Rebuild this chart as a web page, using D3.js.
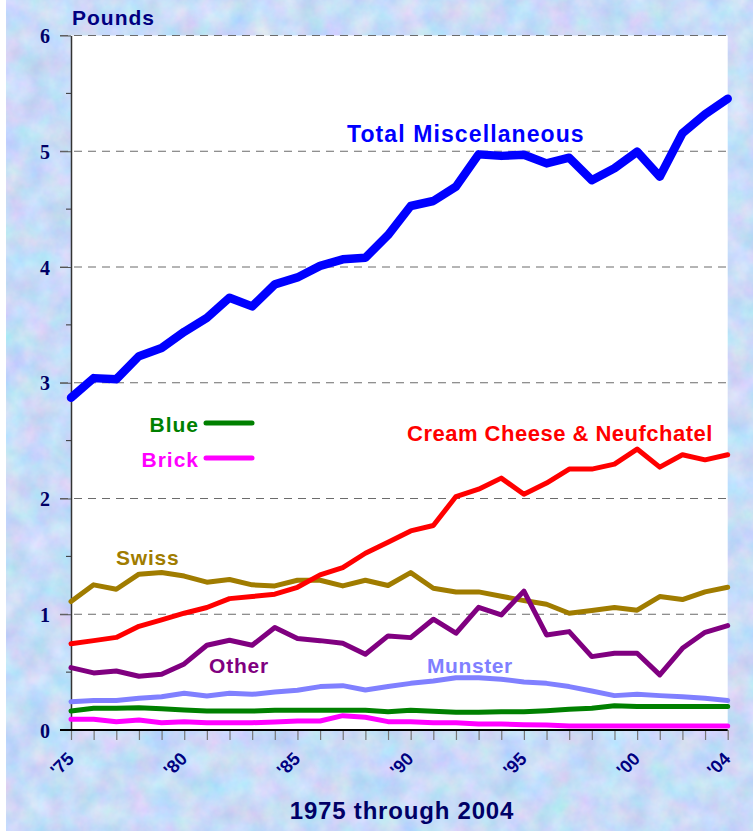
<!DOCTYPE html>
<html><head><meta charset="utf-8">
<script src="https://cdn.jsdelivr.net/npm/d3@7/dist/d3.min.js"></script>
<style>body{margin:0;background:#fff;}svg{display:block;}</style>
</head><body>
<script>
const years = d3.range(1975, 2005);
const yTicks = [0,1,2,3,4,5,6];
const xLabelYears = [1975,1980,1985,1990,1995,2000,2004];
const xLabels = ["'75","'80","'85","'90","'95","'00","'04"];

const totalMisc = [2.87,3.04,3.03,3.23,3.30,3.44,3.56,3.735,3.66,3.85,3.91,4.01,4.066,4.08,4.276,4.527,4.57,4.694,4.973,4.96,4.97,4.895,4.944,4.75,4.853,4.996,4.78,5.155,5.32,5.454];
const creamCheese = [0.746,0.772,0.80,0.896,0.951,1.009,1.058,1.135,1.153,1.173,1.233,1.34,1.403,1.527,1.622,1.72,1.767,2.017,2.08,2.176,2.037,2.133,2.254,2.254,2.297,2.427,2.271,2.378,2.334,2.378];
const swiss = [1.11,1.254,1.216,1.346,1.36,1.33,1.277,1.30,1.254,1.245,1.294,1.294,1.245,1.294,1.248,1.36,1.225,1.193,1.193,1.156,1.118,1.086,1.009,1.032,1.058,1.035,1.153,1.127,1.193,1.233];
const other = [0.539,0.493,0.51,0.464,0.481,0.571,0.732,0.775,0.732,0.885,0.79,0.772,0.749,0.654,0.813,0.798,0.957,0.836,1.06,0.994,1.20,0.821,0.85,0.634,0.663,0.663,0.476,0.706,0.844,0.902];
const munster = [0.245,0.254,0.254,0.274,0.288,0.317,0.294,0.317,0.308,0.329,0.343,0.375,0.383,0.346,0.375,0.403,0.424,0.452,0.452,0.438,0.415,0.403,0.375,0.337,0.297,0.308,0.297,0.288,0.274,0.254];
const blue = [0.164,0.187,0.187,0.193,0.184,0.173,0.164,0.164,0.164,0.17,0.17,0.17,0.17,0.17,0.158,0.17,0.161,0.153,0.153,0.158,0.158,0.167,0.179,0.187,0.21,0.202,0.202,0.202,0.202,0.202];
const brick = [0.092,0.092,0.072,0.086,0.063,0.072,0.063,0.063,0.063,0.069,0.078,0.078,0.124,0.11,0.072,0.072,0.063,0.063,0.052,0.052,0.046,0.043,0.035,0.035,0.035,0.035,0.035,0.035,0.035,0.035];

const W = 753, H = 831;
const svg = d3.select("body").append("svg").attr("width", W).attr("height", H);
const defs = svg.append("defs");
const f = defs.append("filter").attr("id","tex").attr("x",0).attr("y",0).attr("width","100%").attr("height","100%")
 .attr("color-interpolation-filters","sRGB");
f.append("feTurbulence").attr("type","fractalNoise").attr("baseFrequency","0.04").attr("numOctaves",4).attr("seed",7);
f.append("feColorMatrix").attr("type","matrix").attr("values",
 "0.28 0 0 0 0.64  0 0.18 0 0 0.77  0 0 0.1 0 0.92  0 0 0 0 1");

svg.append("rect").attr("x",0).attr("y",0).attr("width",W).attr("height",H).attr("fill","#fff");
svg.append("rect").attr("x",6).attr("y",0).attr("width",W-6).attr("height",H).attr("filter","url(#tex)");

const x = d3.scaleLinear().domain([1975, 2004]).range([71, 727.7]);
const y = d3.scaleLinear().domain([0, 6]).range([730, 35.5]);

// plot area
svg.append("rect").attr("x",x(1975)).attr("y",y(6)).attr("width",x(2004)-x(1975)).attr("height",y(0)-y(6)).attr("fill","#fff");

// gridlines
svg.append("g").selectAll("line").data(yTicks.filter(d=>d>0)).join("line")
 .attr("x1",60).attr("x2",x(2004)).attr("y1",d=>y(d)).attr("y2",d=>y(d))
 .attr("stroke","#6b6b6b").attr("stroke-width",1).attr("stroke-dasharray","8,6");

// minor ticks
svg.append("g").selectAll("line").data([0.5,1.5,2.5,3.5,4.5,5.5]).join("line")
 .attr("x1",66).attr("x2",71).attr("y1",d=>y(d)).attr("y2",d=>y(d))
 .attr("stroke","#333").attr("stroke-width",1);

// y axis
const yAxis = svg.append("g").attr("transform",`translate(${x(1975)},0)`)
 .call(d3.axisLeft(y).tickValues(yTicks).tickSize(11).tickSizeOuter(0).tickFormat(d3.format("d")));
yAxis.select(".domain").attr("stroke","#333").attr("stroke-width",1.5);
yAxis.selectAll(".tick line").attr("stroke","#555");
yAxis.selectAll(".tick text").attr("x",-21).attr("dy","0.35em")
 .attr("font-family","'Liberation Serif', 'DejaVu Serif', serif").attr("font-weight","bold")
 .attr("font-size",20).attr("fill","#000066");

// x axis ticks
const xAxis = svg.append("g").attr("transform",`translate(0,${y(0)})`)
 .call(d3.axisBottom(x).tickValues(years).tickSize(10).tickSizeOuter(0).tickFormat(() => ""));
xAxis.select(".domain").remove();
xAxis.selectAll(".tick line").attr("stroke","#777").attr("stroke-width",1.2);
svg.append("line").attr("x1",60).attr("x2",x(2004)).attr("y1",y(0)).attr("y2",y(0))
 .attr("stroke","#000").attr("stroke-width",1.8);

// x labels
const lblY = y(0) + 30;
svg.append("g").selectAll("text").data(xLabelYears).join("text")
 .attr("x", d => x(d) + 4).attr("y", lblY)
 .attr("transform", d => `rotate(-45 ${x(d) + 4} ${lblY})`)
 .attr("text-anchor","end")
 .style("font-family","'Liberation Sans', Arial, sans-serif").style("font-weight","bold")
 .style("font-size","18px").style("fill","#000080")
 .text((d,i)=>xLabels[i]);

// lines
const line = d3.line().x((d,i)=>x(years[i])).y(d=>y(d));
const series = [
 {v: totalMisc, c:"#0000ff", w:8.5},
 {v: swiss, c:"#a07c00", w:5},
 {v: creamCheese, c:"#ff0000", w:5},
 {v: other, c:"#800080", w:5},
 {v: munster, c:"#8080ff", w:5},
 {v: blue, c:"#008000", w:5},
 {v: brick, c:"#ff00ff", w:5}
];
svg.append("g").selectAll("path").data(series).join("path")
 .attr("d",d=>line(d.v)).attr("fill","none").attr("stroke",d=>d.c).attr("stroke-width",d=>d.w)
 .attr("stroke-linejoin","round").attr("stroke-linecap","round");

// legend lines
svg.append("line").attr("x1",206).attr("x2",252).attr("y1",423).attr("y2",423).attr("stroke","#008000").attr("stroke-width",5).attr("stroke-linecap","round");
svg.append("line").attr("x1",206).attr("x2",252).attr("y1",458).attr("y2",458).attr("stroke","#ff00ff").attr("stroke-width",5).attr("stroke-linecap","round");

// labels
const labels = [
 {t:"Pounds", x:72, y:25, c:"#000080", s:21, a:"start", ls:1},
 {t:"Total Miscellaneous", x:347, y:142, c:"#0000ff", s:23, a:"start", ls:1.1},
 {t:"Cream Cheese & Neufchatel", x:407, y:441, c:"#ff0000", s:22, a:"start", ls:0.5},
 {t:"Swiss", x:116, y:565, c:"#a07c00", s:21, a:"start", ls:0.8},
 {t:"Other", x:209, y:673, c:"#800080", s:21, a:"start", ls:0.8},
 {t:"Munster", x:427, y:673, c:"#8080ff", s:21, a:"start", ls:0.6},
 {t:"Blue", x:199, y:432, c:"#008000", s:21, a:"end", ls:1},
 {t:"Brick", x:199, y:467, c:"#ff00ff", s:21, a:"end", ls:1},
 {t:"1975 through 2004", x:402, y:819, c:"#000066", s:24, a:"middle", ls:0.8}
];
svg.append("g").selectAll("text").data(labels).join("text")
 .attr("x",d=>d.x).attr("y",d=>d.y).attr("fill",d=>d.c).attr("font-size",d=>d.s)
 .attr("text-anchor",d=>d.a).attr("font-weight","bold")
 .attr("font-family","'Liberation Sans', Arial, sans-serif").attr("letter-spacing",d=>d.ls)
 .text(d=>d.t);
</script>
</body></html>
